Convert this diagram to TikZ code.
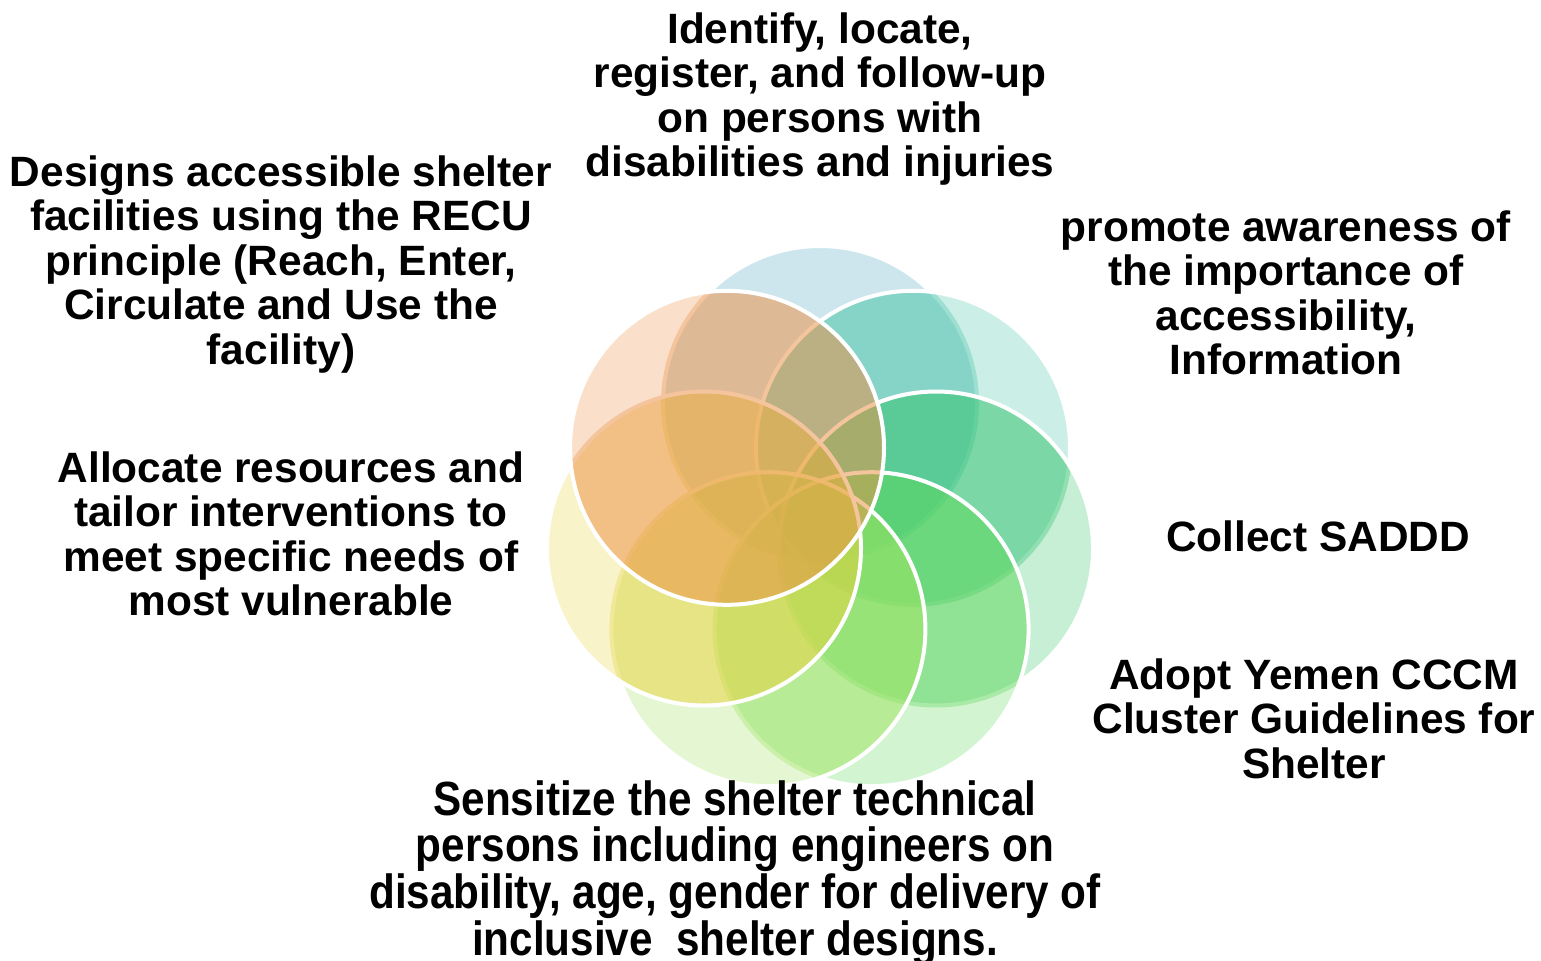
\documentclass[tikz,border=0pt]{standalone}
\usepackage{fontspec}
\setmainfont{Liberation Sans}
\newfontfamily\condfont[FakeStretch=0.88]{Liberation Sans}
\begin{document}
\begin{tikzpicture}[x=0.5pt,y=-0.5pt]
\useasboundingbox (0,0) rectangle (1541,960);
\definecolor{cblue}{RGB}{76,166,194}
\definecolor{cteal}{RGB}{70,196,166}
\definecolor{cgreen}{RGB}{50,196,108}
\definecolor{cgreenb}{RGB}{95,216,90}
\definecolor{cbottom}{RGB}{160,228,95}
\definecolor{cyellow}{RGB}{232,212,62}
\definecolor{corange}{RGB}{237,145,70}
\tikzset{
  petal/.style={fill=#1, fill opacity=0.28},
  tint/.style={fill=#1, fill opacity=0.34},
  rim/.style={draw=white, line width=2pt},
  lbl/.style={font=\bfseries\fontsize{21.2}{22.25}\selectfont, align=center, inner sep=0pt, anchor=north, text=black},
  lblcond/.style={font=\condfont\bfseries\fontsize{24}{23.35}\selectfont, align=center, inner sep=0pt, anchor=north, text=black}
}
\coordinate (p1) at (820.0,403.0);
\coordinate (p2) at (913.0,447.8);
\coordinate (p3) at (936.0,548.5);
\coordinate (p4) at (871.6,629.2);
\coordinate (p5) at (768.4,629.2);
\coordinate (p6) at (704.0,548.5);
\coordinate (p7) at (727.0,447.8);
% petal 1
\fill[petal=cblue] (p1) circle (157);
\draw[rim] (p1) circle (157);
% petal 2
\fill[petal=cteal] (p2) circle (157);
\begin{scope}\clip (p2) circle (157);
\fill[tint=cteal] (p1) circle (159);
\end{scope}
\draw[rim] (p2) circle (157);
% petal 3
\fill[petal=cgreen] (p3) circle (157);
\begin{scope}\clip (p3) circle (157);
\fill[tint=cgreen] (p1) circle (159) (p2) circle (159);
\end{scope}
\draw[rim] (p3) circle (157);
% petal 4
\fill[petal=cgreenb] (p4) circle (157);
\begin{scope}\clip (p4) circle (157);
\fill[tint=cgreenb] (p1) circle (159) (p2) circle (159) (p3) circle (159);
\end{scope}
\draw[rim] (p4) circle (157);
% petal 5
\fill[petal=cbottom] (p5) circle (157);
\begin{scope}\clip (p5) circle (157);
\fill[tint=cbottom] (p1) circle (159) (p2) circle (159) (p3) circle (159) (p4) circle (159);
\end{scope}
\draw[rim] (p5) circle (157);
% petal 6
\fill[petal=cyellow] (p6) circle (157);
\begin{scope}\clip (p6) circle (157);
\fill[tint=cyellow] (p1) circle (159) (p2) circle (159) (p3) circle (159) (p4) circle (159) (p5) circle (159);
\end{scope}
\draw[rim] (p6) circle (157);
% petal 7
\fill[petal=corange] (p7) circle (157);
\begin{scope}\clip (p7) circle (157);
\fill[tint=corange] (p1) circle (159) (p2) circle (159) (p3) circle (159) (p4) circle (159) (p5) circle (159) (p6) circle (159);
\end{scope}
\draw[rim] (p7) circle (157);
% labels
\node[lbl] (identify) at (820,12) {Identify, locate,\\register, and follow-up\\on persons with\\disabilities and injuries};
\node[lbl] (designs) at (281,155) {Designs accessible shelter\\facilities using the RECU\\principle (Reach, Enter,\\Circulate and Use the\\facility)};
\node[lbl] (promote) at (1286,210) {promote awareness of\\the importance of\\accessibility,\\Information};
\node[lbl] (allocate) at (291,451) {Allocate resources and\\tailor interventions to\\meet specific needs of\\most vulnerable};
\node[lbl] (collect) at (1318,520) {Collect SADDD};
\node[lbl] (adopt) at (1314,658) {Adopt Yemen CCCM\\Cluster Guidelines for\\Shelter};
\node[lblcond] (sensitize) at (735,780) {Sensitize the shelter technical\\persons including engineers on\\disability, age, gender for delivery of\\inclusive~ shelter designs.};
\end{tikzpicture}
\end{document}
